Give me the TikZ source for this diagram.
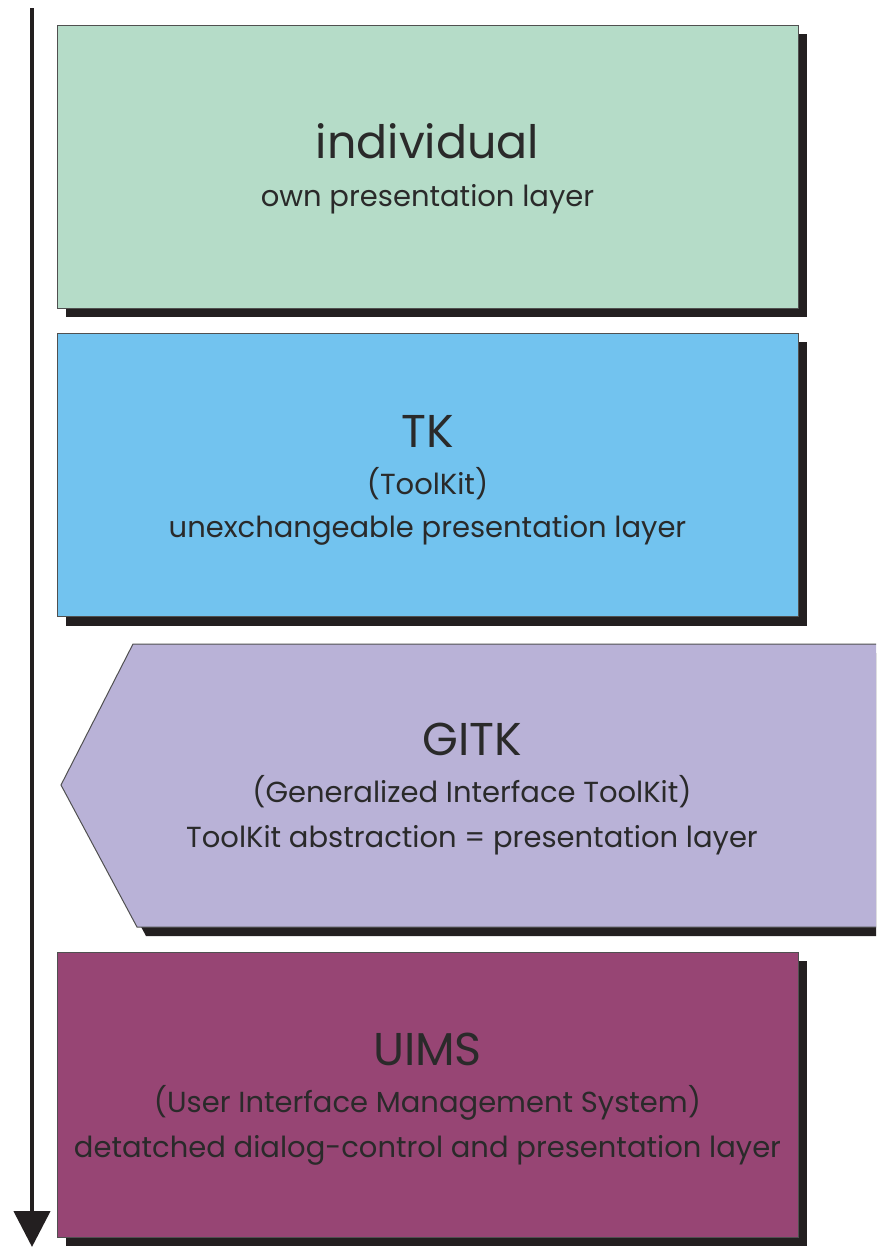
\documentclass[tikz,border=0pt]{standalone}
\usepackage{fontspec}
\setmainfont{Poppins}
\usetikzlibrary{arrows.meta}
\definecolor{cgreen}{HTML}{B5DCC8}
\definecolor{cblue}{HTML}{72C3EF}
\definecolor{clav}{HTML}{B9B2D7}
\definecolor{cplum}{HTML}{974574}
\definecolor{cshadow}{HTML}{231F20}
\definecolor{cborder}{HTML}{505050}
\definecolor{ctext}{HTML}{2A2A2A}
\begin{document}
\begin{tikzpicture}[x=1pt,y=-1pt,
  layerbox/.style={draw=cborder, line width=1pt, rectangle, inner sep=0pt, outer sep=0pt,
    minimum width=741pt, minimum height=283pt, anchor=north west},
  shadowfill/.style={fill=cshadow},
  titletext/.style={anchor=base, inner sep=0pt, text=ctext, font=\fontsize{46}{56}\selectfont},
  subtext/.style={anchor=base, inner sep=0pt, text=ctext, font=\fontsize{29}{35}\selectfont}]
\clip (0,0) rectangle (876,1248);
\fill[white] (0,0) rectangle (876,1248);

% box 1
\fill[shadowfill] (66,34) rectangle (807,317);
\node[layerbox, fill=cgreen] (b1) at (57,25) {};
\node[titletext] (t1) at (427.5,158) {individual};
\node[subtext] (s1a) at (427.5,206) {own presentation layer};

% box 2
\fill[shadowfill] (66,342) rectangle (807,626);
\node[layerbox, fill=cblue] (b2) at (57,333) {};
\node[titletext] (t2) at (427.5,447) {TK};
\node[subtext] (s2a) at (427.5,494) {(ToolKit)};
\node[subtext] (s2b) at (427.5,537) {unexchangeable presentation layer};

% box 3 (pointed)
\fill[shadowfill] (142,653) -- (900,653) -- (900,936) -- (146,936) -- (70,794) -- cycle;
\filldraw[draw=cborder, line width=1pt, fill=clav] (133,644) -- (900,644) -- (900,927) -- (137,927) -- (61,785) -- cycle;
\node[titletext] (t3) at (472,755) {GITK};
\node[subtext] (s3a) at (472,802) {(Generalized Interface ToolKit)};
\node[subtext] (s3b) at (472,847) {ToolKit abstraction = presentation layer};

% box 4
\fill[shadowfill] (66,961) rectangle (807,1246);
\node[layerbox, fill=cplum, minimum height=285pt] (b4) at (57,952) {};
\node[titletext] (t4) at (427.5,1065) {UIMS};
\node[subtext] (s4a) at (427.5,1112) {(User Interface Management System)};
\node[subtext] (s4b) at (427.5,1157) {detatched dialog-control and presentation layer};

% arrow
\coordinate (atop) at (32,8);
\coordinate (abot) at (32,1247);
\draw[line width=4.5pt, cshadow, -{Triangle[width=36pt,length=36pt]}] (atop) -- (abot);
\end{tikzpicture}
\end{document}
